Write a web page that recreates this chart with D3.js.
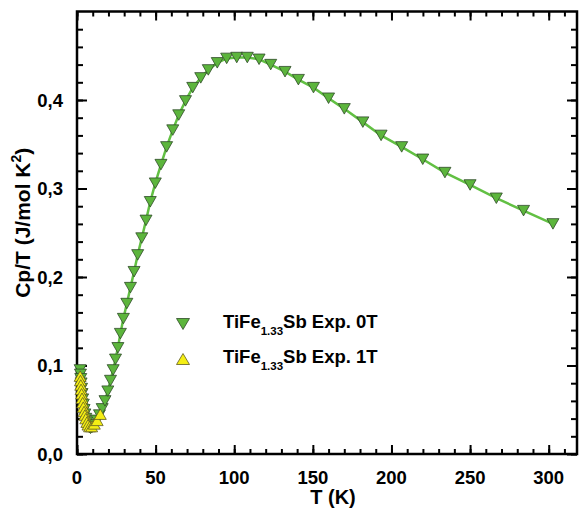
<!DOCTYPE html>
<html>
<head>
<meta charset="utf-8">
<script src="https://cdn.jsdelivr.net/npm/d3@7"></script>
<style>
    body { margin: 0; background: #fff; }
    text { font-family: "Liberation Sans", Arial, sans-serif; font-weight: bold; }
</style>
</head>
<body>
<script>
const WIDTH = 579;
const HEIGHT = 511;
const MARGIN = {
    top: 11.5,
    right: 2,
    left: 77,
    bottom: 57,
}

// 0T curve (T in K, Cp/T in J/mol K^2)
const temp0T = [2.0, 2.2, 2.4, 2.6, 2.9, 3.2, 3.6, 4.0, 4.5, 5.0, 5.6, 6.3, 7.0, 7.8, 8.6,
    9.5, 11, 12.7, 14.3, 16, 17.8, 19.6, 21.3, 23, 24.5, 26, 27.6, 29.5, 31.7, 34, 36.3,
    38.6, 41.2, 43.9, 46.6, 49.8, 53.4, 57, 60.9, 64.7, 69, 73.6, 78.7, 83.5, 89.2, 95.2,
    101.6, 108.3, 115.8, 123.2, 132.3, 140.8, 150.4, 160, 170, 181.8, 193.4, 206.5,
    219.9, 234, 250, 266.7, 284, 302.7];
const cp0T = [0.095, 0.090, 0.085, 0.080, 0.074, 0.068, 0.062, 0.056, 0.050, 0.045, 0.040, 0.036, 0.032, 0.030, 0.029,
    0.030, 0.033, 0.038, 0.044, 0.051, 0.060, 0.071, 0.083, 0.095, 0.107, 0.120, 0.136, 0.153, 0.170, 0.188, 0.206,
    0.225, 0.244, 0.264, 0.285, 0.306, 0.327, 0.347, 0.366, 0.383, 0.399, 0.414, 0.425, 0.434, 0.442, 0.447,
    0.448, 0.448, 0.446, 0.440, 0.432, 0.423, 0.414, 0.402, 0.390, 0.375, 0.360, 0.347,
    0.333, 0.318, 0.304, 0.289, 0.275, 0.260];

// 1T curve
const temp1T = [2.0, 2.2, 2.4, 2.6, 2.9, 3.2, 3.6, 4.0, 4.5, 5.0, 5.6, 6.3, 7.0, 8.0, 9.3, 11, 12.8, 14.8];
const cp1T = [0.088, 0.083, 0.078, 0.073, 0.068, 0.063, 0.058, 0.053, 0.048, 0.044, 0.040, 0.036, 0.033, 0.031, 0.031, 0.034, 0.038, 0.045];

const xTicks = [0, 50, 100, 150, 200, 250, 300];
const yTicks = [0, 0.1, 0.2, 0.3, 0.4];
const legendLabels = ["0T", "1T"];

const innerW = WIDTH - MARGIN.left - MARGIN.right;
const innerH = HEIGHT - MARGIN.top - MARGIN.bottom;

const svg = d3.select("body")
    .append("svg")
    .attr("width", WIDTH)
    .attr("height", HEIGHT)

const g = svg.append("g")
    .attr("transform", `translate(${MARGIN.left} ${MARGIN.top})`);

const x = d3.scaleLinear().domain([0, 318]).range([0, innerW]);
const y = d3.scaleLinear().domain([0, 0.5]).range([innerH, 0]);

const fmt = d => d3.format(".1f")(d).replace(".", ",");

// ticks point inward on all four sides
function ticks(axisGen, vals, len, transform) {
    g.append("g")
        .attr("transform", transform)
        .call(axisGen.tickValues(vals).tickSize(len).tickFormat(""))
        .call(s => s.select(".domain").remove())
        .selectAll("line").attr("stroke", "#000").attr("stroke-width", 2);
}
const xMinor = d3.range(0, 318, 10);
const yMinor = d3.range(0, 0.5, 0.02);
ticks(d3.axisTop(x), xMinor, 5, `translate(0 ${innerH})`);
ticks(d3.axisTop(x), xTicks, 9, `translate(0 ${innerH})`);
ticks(d3.axisBottom(x), xMinor, 5, `translate(0 0)`);
ticks(d3.axisBottom(x), xTicks, 9, `translate(0 0)`);
ticks(d3.axisRight(y), yMinor, 6, `translate(0 0)`);
ticks(d3.axisRight(y), yTicks, 10, `translate(0 0)`);
ticks(d3.axisLeft(y), yMinor, 6, `translate(${innerW} 0)`);
ticks(d3.axisLeft(y), yTicks, 10, `translate(${innerW} 0)`);

g.append("rect")
    .attr("width", innerW)
    .attr("height", innerH)
    .attr("fill", "none")
    .attr("stroke", "#000")
    .attr("stroke-width", 2.5)

// tick labels
g.selectAll(".xl")
    .data(xTicks)
    .join("text")
    .attr("x", d => x(d))
    .attr("y", innerH + 30)
    .attr("text-anchor", "middle")
    .attr("font-size", 18.5)
    .text(d => d)

g.selectAll(".yl")
    .data(yTicks)
    .join("text")
    .attr("x", -14)
    .attr("y", d => y(d) + 6.5)
    .attr("text-anchor", "end")
    .attr("font-size", 18.5)
    .text(fmt)

g.append("text")
    .attr("x", innerW / 2 + 6)
    .attr("y", innerH + 50)
    .attr("text-anchor", "middle")
    .attr("font-size", 20)
    .text("T (K)")

const yTitle = g.append("text")
    .attr("transform", `translate(${-47} ${innerH / 2 - 10}) rotate(-90)`)
    .attr("text-anchor", "middle")
    .attr("font-size", 21)
yTitle.append("tspan").text("Cp/T (J/mol K")
yTitle.append("tspan").attr("font-size", 14).attr("dy", -9).text("2")
yTitle.append("tspan").attr("dy", 9).text(")")

const tri = (down, w, h) => down
    ? `M${-w},${-h / 2}L${w},${-h / 2}L0,${h / 2}Z`
    : `M${-w},${h / 2}L${w},${h / 2}L0,${-h / 2}Z`;

const line = d3.line()
    .x(d => x(d[0]))
    .y(d => y(d[1]))

const series = [
    { temps: temp0T, vals: cp0T, line: "#62c043", fill: "#5cb53c", stroke: "#2f4a28", down: true },
    { temps: temp1T, vals: cp1T, line: "#eeea20", fill: "#f4ee14", stroke: "#5e5a22", down: false },
];

series.forEach(s => {
    const pts = s.temps.map((t, i) => [t, s.vals[i]]);
    g.append("path")
        .datum(pts)
        .attr("d", line)
        .attr("fill", "none")
        .attr("stroke", s.line)
        .attr("stroke-width", 2.5)
    g.append("g")
        .selectAll("path")
        .data(pts)
        .join("path")
        .attr("transform", d => `translate(${x(d[0])} ${y(d[1])})`)
        .attr("d", tri(s.down, 6, 10.5))
        .attr("fill", s.fill)
        .attr("stroke", s.stroke)
        .attr("stroke-width", 0.8)
});

// legend
const legend = svg.append("g")
legendLabels.forEach((lab, i) => {
    const s = series[i];
    const ly = 328 + i * 35;
    legend.append("path")
        .attr("transform", `translate(183 ${ly - 4})`)
        .attr("d", tri(s.down, 6.5, 11))
        .attr("fill", s.fill)
        .attr("stroke", s.stroke)
        .attr("stroke-width", 0.8)
    const t = legend.append("text")
        .attr("x", 223)
        .attr("y", ly)
        .attr("font-size", 18.5)
    t.append("tspan").text("TiFe")
    t.append("tspan").attr("font-size", 11.5).attr("dy", 7).text("1.33")
    t.append("tspan").attr("dy", -7).text(`Sb Exp. ${lab}`)
});
</script>
</body>
</html>
